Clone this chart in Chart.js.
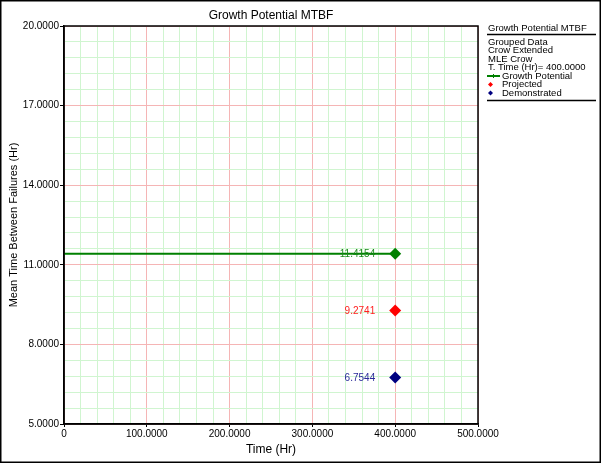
<!DOCTYPE html>
<html>
<head>
<meta charset="utf-8">
<script src="https://cdn.jsdelivr.net/npm/chart.js@4.4.1/dist/chart.umd.min.js"></script>
<style>
    html, body { margin: 0; padding: 0; background: #fff; }
    #wrap { width: 601px; height: 463px; position: relative; }
</style>
</head>
<body>
<div id="wrap"><canvas id="mtbfChart" width="601" height="463"></canvas></div>
<script>
// Data
const growthTime = [0, 400];
const growthMtbf = [11.4154, 11.4154];
const projectedTime = [400];
const projectedMtbf = [9.2741];
const demonstratedTime = [400];
const demonstratedMtbf = [6.7544];

const infoLines = ["Grouped Data", "Crow Extended", "MLE Crow", "T. Time (Hr)= 400.0000"];
const legendLabels = ["Growth Potential", "Projected", "Demonstrated"];

const FONT = "'Liberation Sans', Arial, sans-serif";
const green = "#008000";
const red = "#ff0000";
const navy = "#000080";
const majorGrid = "#f5b5b5";
const minorGrid = "#d0f5d0";

const toPoints = (xs, ys) => xs.map((x, i) => ({ x: x, y: ys[i] }));

const isMajorX = (v) => Math.abs(v / 100 - Math.round(v / 100)) < 1e-6;
const isMajorY = (v) => Math.abs((v - 5) / 3 - Math.round((v - 5) / 3)) < 1e-6;

// frame, title, legend panel and value labels
const decorations = {
    id: "decorations",
    afterDraw(chart) {
        const ctx = chart.ctx;
        const area = chart.chartArea;
        ctx.save();

        // outer frame
        ctx.strokeStyle = "#000";
        ctx.lineWidth = 1.5;
        ctx.strokeRect(0.75, 0.75, 599.5, 461.5);

        // plot box
        ctx.strokeRect(area.left, area.top, area.right - area.left, area.bottom - area.top);

        // title
        ctx.fillStyle = "#000";
        ctx.font = "12px " + FONT;
        ctx.textAlign = "center";
        ctx.textBaseline = "middle";
        ctx.fillText("Growth Potential MTBF", (area.left + area.right) / 2, 16);

        // value labels next to the markers
        const labelColors = ["#1a8a1a", "#ff2020", "#2a2a9a"];
        ctx.font = "10px " + FONT;
        ctx.textAlign = "right";
        chart.data.datasets.forEach((ds, i) => {
            const meta = chart.getDatasetMeta(i);
            const last = meta.data[meta.data.length - 1];
            const val = ds.data[ds.data.length - 1].y;
            ctx.fillStyle = labelColors[i];
            ctx.fillText(val.toFixed(4), last.x - 20, last.y + 0.5);
        });

        // legend panel
        const lx = 488;
        ctx.textAlign = "left";
        ctx.fillStyle = "#000";
        ctx.font = "9.5px " + FONT;
        ctx.fillText("Growth Potential MTBF", lx, 28.5);
        ctx.lineWidth = 1.5;
        ctx.beginPath();
        ctx.moveTo(487, 34.5);
        ctx.lineTo(596, 34.5);
        ctx.stroke();

        let y = 42;
        const step = 8.5;
        infoLines.forEach((t) => {
            ctx.fillText(t, lx, y);
            y += step;
        });

        // growth potential icon
        ctx.strokeStyle = green;
        ctx.lineWidth = 2;
        ctx.beginPath();
        ctx.moveTo(487, y);
        ctx.lineTo(500, y);
        ctx.stroke();
        ctx.lineWidth = 1;
        ctx.beginPath();
        ctx.moveTo(493.5, y - 2);
        ctx.lineTo(493.5, y + 2);
        ctx.stroke();
        ctx.fillText(legendLabels[0], 502, y);
        y += step;

        const diamond = (cx, cy, r, col) => {
            ctx.fillStyle = col;
            ctx.beginPath();
            ctx.moveTo(cx, cy - r);
            ctx.lineTo(cx + r, cy);
            ctx.lineTo(cx, cy + r);
            ctx.lineTo(cx - r, cy);
            ctx.closePath();
            ctx.fill();
        };
        diamond(490.5, y, 2.5, red);
        ctx.fillStyle = "#000";
        ctx.fillText(legendLabels[1], 502, y);
        y += step;
        diamond(490.5, y, 2.5, navy);
        ctx.fillStyle = "#000";
        ctx.fillText(legendLabels[2], 502, y);

        ctx.strokeStyle = "#000";
        ctx.lineWidth = 1.5;
        ctx.beginPath();
        ctx.moveTo(487, y + 7.5);
        ctx.lineTo(596, y + 7.5);
        ctx.stroke();

        ctx.restore();
    },
};

new Chart(document.getElementById("mtbfChart"), {
    type: "scatter",
    data: {
        datasets: [
            {
                label: legendLabels[0],
                data: toPoints(growthTime, growthMtbf),
                showLine: true,
                borderColor: green,
                backgroundColor: green,
                borderWidth: 2,
                pointStyle: "rectRot",
                pointRadius: [0, 6],
                pointBorderWidth: 0,
            },
            {
                label: legendLabels[1],
                data: toPoints(projectedTime, projectedMtbf),
                backgroundColor: red,
                borderColor: red,
                pointStyle: "rectRot",
                pointRadius: 6,
                pointBorderWidth: 0,
            },
            {
                label: legendLabels[2],
                data: toPoints(demonstratedTime, demonstratedMtbf),
                backgroundColor: navy,
                borderColor: navy,
                pointStyle: "rectRot",
                pointRadius: 6,
                pointBorderWidth: 0,
            },
        ],
    },
    options: {
        responsive: false,
        animation: false,
        layout: {
            padding: { left: 0, top: 26, right: 123, bottom: 0 },
        },
        plugins: {
            legend: { display: false },
            tooltip: { enabled: false },
        },
        scales: {
            x: {
                type: "linear",
                min: 0,
                max: 500,
                border: { color: "#000", width: 1.5 },
                grid: {
                    color: (c) => (isMajorX(c.tick.value) ? majorGrid : minorGrid),
                    tickColor: (c) => (isMajorX(c.tick.value) ? "#000" : "rgba(0,0,0,0)"),
                    tickLength: 3,
                },
                ticks: {
                    stepSize: 20,
                    autoSkip: false,
                    maxRotation: 0,
                    padding: 1,
                    color: "#000",
                    font: { family: FONT, size: 10 },
                    callback: (v) => (isMajorX(v) ? (v === 0 ? "0" : v.toFixed(4)) : ""),
                },
                title: {
                    display: true,
                    text: "Time (Hr)",
                    color: "#000",
                    font: { family: FONT, size: 12 },
                    padding: { top: 6, bottom: 6 },
                },
                afterFit: (s) => { s.height = 39; },
            },
            y: {
                type: "linear",
                min: 5,
                max: 20,
                border: { color: "#000", width: 1.5 },
                grid: {
                    color: (c) => (isMajorY(c.tick.value) ? majorGrid : minorGrid),
                    tickColor: (c) => (isMajorY(c.tick.value) ? "#000" : "rgba(0,0,0,0)"),
                    tickLength: 4,
                },
                ticks: {
                    stepSize: 0.6,
                    autoSkip: false,
                    padding: 1,
                    color: "#000",
                    font: { family: FONT, size: 10 },
                    callback: (v) => (isMajorY(v) ? v.toFixed(4) : ""),
                },
                title: {
                    display: true,
                    text: "Mean Time Between Failures (Hr)",
                    color: "#000",
                    font: { family: FONT, size: 11 },
                    padding: { top: 7, bottom: 6 },
                },
                afterFit: (s) => { s.width = 64; },
            },
        },
    },
    plugins: [decorations],
});
</script>
</body>
</html>
